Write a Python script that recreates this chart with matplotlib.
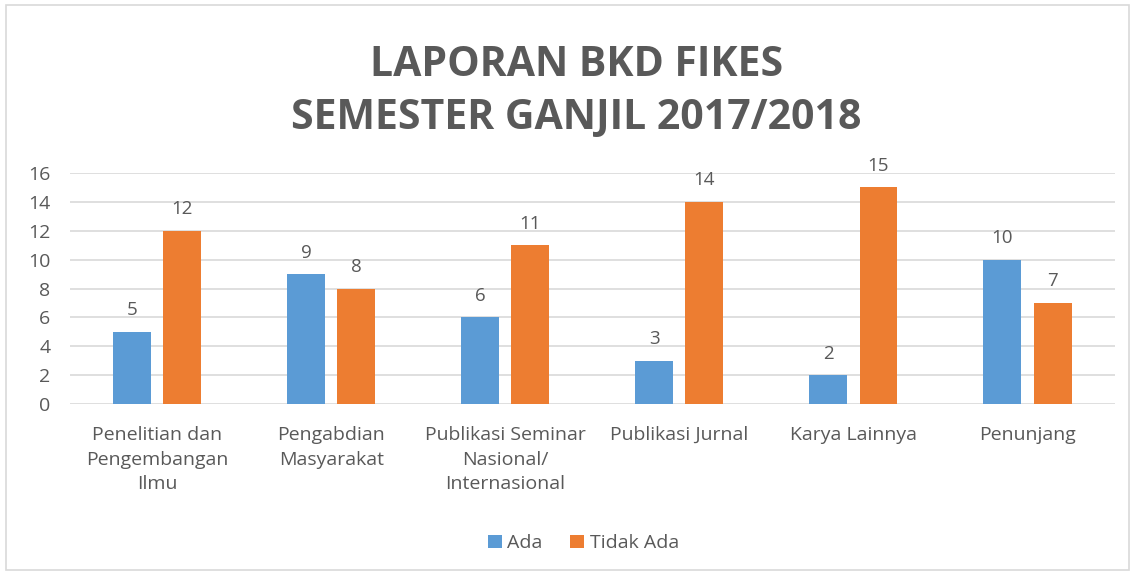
import matplotlib.pyplot as plt
import numpy as np
from matplotlib.patches import Rectangle

categories = ["Penelitian dan\nPengembangan\nIlmu", "Pengabdian\nMasyarakat",
              "Publikasi Seminar\nNasional/\nInternasional", "Publikasi Jurnal",
              "Karya Lainnya", "Penunjang"]
ada = [5, 9, 6, 3, 2, 10]
tidak_ada = [12, 8, 11, 14, 15, 7]

blue = "#5B9BD5"
orange = "#ED7D31"
txt = "#595959"
plt.rcParams['font.family'] = ['Open Sans', 'DejaVu Sans']

fig = plt.figure(figsize=(11.35, 5.75), dpi=100)
ax = fig.add_axes([0.0617, 0.2974, 0.9203, 0.4017])
fig.patches.append(Rectangle((0.005, 0.008), 0.99, 0.984, transform=fig.transFigure,
                             fill=False, edgecolor="#D9D9D9", linewidth=1.2))

x = np.arange(len(categories))
w = 0.218
b1 = ax.bar(x - 0.144, ada, w, color=blue, label="Ada", zorder=3)
b2 = ax.bar(x + 0.144, tidak_ada, w, color=orange, label="Tidak Ada", zorder=3)
for bars in (b1, b2):
    for r in bars:
        ax.annotate(str(int(r.get_height())), (r.get_x() + r.get_width() / 2, r.get_height()),
                    xytext=(0, 9), textcoords="offset points", ha="center", va="bottom",
                    fontsize=13.5, color=txt)

ax.set_xlim(-0.5, len(categories) - 0.5)
ax.set_ylim(0, 16)
ax.set_yticks(range(0, 17, 2))
ax.set_xticks(x)
ax.set_xticklabels(categories, fontsize=14, color=txt, va="top", linespacing=1.45)
ax.tick_params(axis="y", labelsize=14, labelcolor=txt, length=0, pad=14)
ax.tick_params(axis="x", length=0, pad=16)
ax.grid(axis="y", color="#D9D9D9", linewidth=1.2, zorder=0)
for s in ax.spines.values():
    s.set_visible(False)

fig.text(0.508, 0.886, "LAPORAN BKD FIKES", ha="center", va="center",
         fontsize=29.5, fontweight="bold", color=txt)
fig.text(0.508, 0.794, "SEMESTER GANJIL 2017/2018", ha="center", va="center",
         fontsize=29.5, fontweight="bold", color=txt)

fig.legend(loc="center", bbox_to_anchor=(0.514, 0.055), ncol=2, frameon=False,
           fontsize=14, labelcolor=txt, handlelength=0.7, handleheight=0.7,
           handletextpad=0.3, columnspacing=1.4)

fig.savefig("out.png", dpi=100)
